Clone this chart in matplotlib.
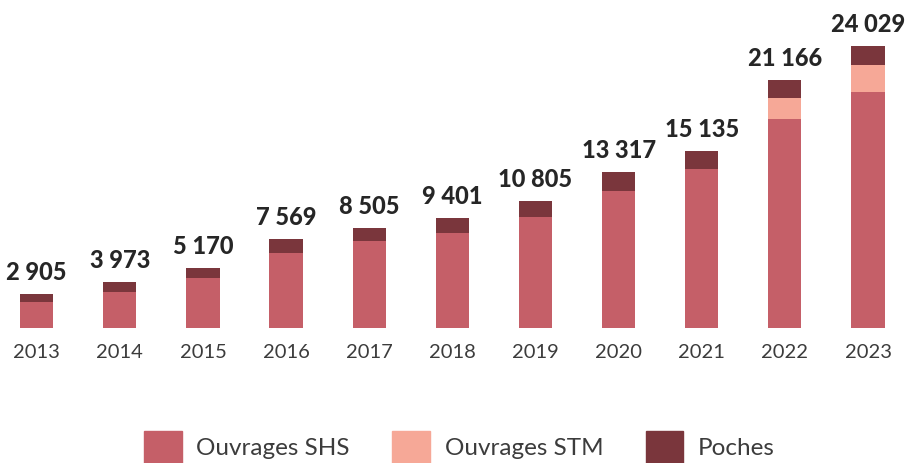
import matplotlib
matplotlib.use("Agg")
import matplotlib.pyplot as plt
from matplotlib.patches import Patch
import numpy as np

years = ["2013", "2014", "2015", "2016", "2017", "2018", "2019", "2020", "2021", "2022", "2023"]
shs = [2220, 3113, 4290, 6429, 7410, 8087, 9484, 11733, 13582, 17809, 20172]
stm = [0, 0, 0, 0, 0, 0, 0, 0, 0, 1776, 2265]
poches = [685, 860, 880, 1140, 1095, 1314, 1321, 1584, 1553, 1581, 1592]
totals = ["2 905", "3 973", "5 170", "7 569", "8 505", "9 401", "10 805", "13 317", "15 135", "21 166", "24 029"]
series_names = ["Ouvrages SHS", "Ouvrages STM", "Poches"]

c_shs = "#C55F68"
c_stm = "#F6A897"
c_poc = "#7A363C"

plt.rcParams['font.family'] = ['Lato', 'DejaVu Sans']

fig = plt.figure(figsize=(9.08, 4.63), dpi=100)
ax = fig.add_axes([0, (463 - 328.3) / 463, 1, 328.3 / 463])

x = np.arange(len(years))
w = 0.40
shs_a = np.array(shs)
stm_a = np.array(stm)
poc_a = np.array(poches)
ax.bar(x, shs_a, w, color=c_shs, linewidth=0)
ax.bar(x, stm_a, w, bottom=shs_a, color=c_stm, linewidth=0)
ax.bar(x, poc_a, w, bottom=shs_a + stm_a, color=c_poc, linewidth=0)

tops = shs_a + stm_a + poc_a
for xi, t, lab in zip(x, tops, totals):
    ax.annotate(lab, (xi, t), xytext=(0, 14), textcoords="offset pixels",
                ha="center", va="baseline", fontsize=17, fontweight="black",
                color="#262626")

ax.set_xlim(-36.7 / 83.13, (908 - 36.7) / 83.13)
ax.set_ylim(0, 328.3 * 85.2)
ax.set_xticks(x)
ax.set_xticklabels(years, fontsize=14.5, color="#3c3c3c", fontweight="normal")
ax.tick_params(axis="x", length=0, pad=11)
ax.set_yticks([])
for s in ax.spines.values():
    s.set_visible(False)

handles = [Patch(color=c_shs), Patch(color=c_stm), Patch(color=c_poc)]
fig.legend(handles, series_names, loc="center", bbox_to_anchor=(459.5 / 908, (463 - 447) / 463),
           ncol=3, frameon=False, handlelength=1.55, handleheight=1.6,
           handletextpad=0.6, columnspacing=1.75, labelcolor="#3c3c3c",
           prop={"weight": "normal", "size": 17.5})

fig.savefig("out.png", dpi=100)
